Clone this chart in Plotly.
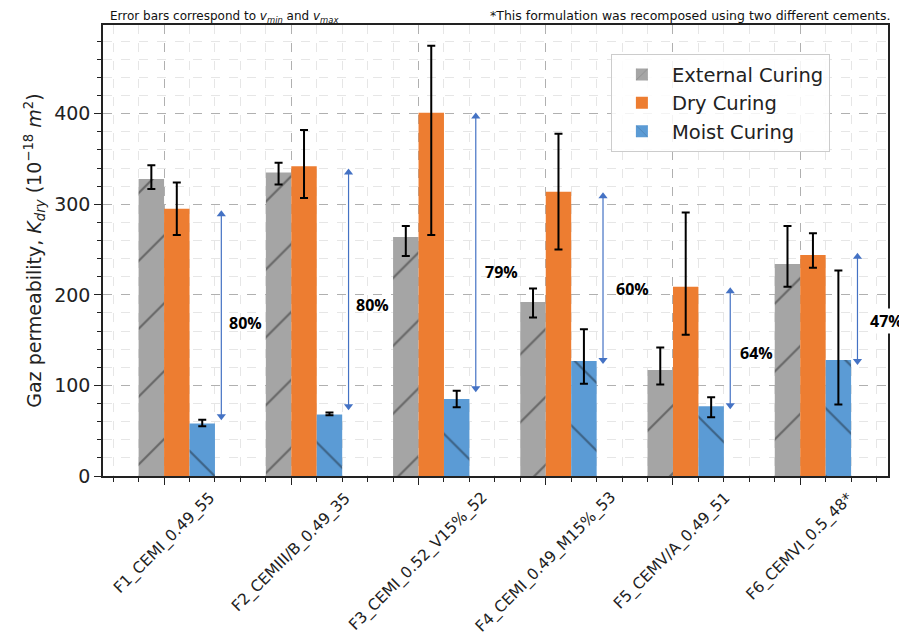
import plotly.graph_objects as go

categories = ["F1_CEMI_0.49_55", "F2_CEMIII/B_0.49_35", "F3_CEMI_0.52_V15%_52",
              "F4_CEMI_0.49_M15%_53", "F5_CEMV/A_0.49_51", "F6_CEMVI_0.5_48*"]

external = [328, 335, 264, 192, 117, 234]
external_hi = [343, 346, 276, 207, 142, 276]
external_lo = [317, 322, 243, 175, 101, 209]

dry = [295, 342, 401, 314, 209, 244]
dry_hi = [324, 382, 475, 378, 291, 268]
dry_lo = [266, 307, 266, 250, 156, 230]

moist = [58, 68, 85, 127, 77, 128]
moist_hi = [62, 70, 94, 162, 87, 227]
moist_lo = [55, 67, 76, 102, 65, 79]

reduction_labels = ["80%", "80%", "79%", "60%", "64%", "47%"]
arrow_top = [289, 335, 397, 309, 204, 242]
arrow_bottom = [66, 77, 97, 128, 78, 127]
label_y = [169, 189, 225, 207, 136, 171]
label_dx = [0.64, 0.635, 0.65, 0.68, 0.66, 0.68]

xs = list(range(len(categories)))

def err(vals, hi, lo):
    return dict(type="data", symmetric=False,
                array=[h - v for v, h in zip(vals, hi)],
                arrayminus=[v - l for v, l in zip(vals, lo)],
                color="black", thickness=2, width=4)

fig = go.Figure()
fig.add_trace(go.Bar(x=xs, y=external, width=0.2, offset=-0.2, name="External Curing",
                     marker=dict(color="#a5a5a5", line=dict(width=0),
                                 pattern=dict(shape="/", size=48, solidity=0.045, fgcolor="#2a2a2a")),
                     error_y=err(external, external_hi, external_lo)))
fig.add_trace(go.Bar(x=xs, y=dry, width=0.2, offset=0.0, name="Dry Curing",
                     marker=dict(color="#ed7d31", line=dict(width=0)),
                     error_y=err(dry, dry_hi, dry_lo)))
fig.add_trace(go.Bar(x=xs, y=moist, width=0.2, offset=0.2, name="Moist Curing",
                     marker=dict(color="#5b9bd5", line=dict(width=0),
                                 pattern=dict(shape="\\", size=48, solidity=0.045, fgcolor="#1f2a36")),
                     error_y=err(moist, moist_hi, moist_lo)))

# double-headed reduction arrows
for i in xs:
    fig.add_trace(go.Scatter(x=[i + 0.45, i + 0.45], y=[arrow_bottom[i], arrow_top[i]],
                             mode="lines+markers", showlegend=False, hoverinfo="skip",
                             line=dict(color="#4472c4", width=1.2),
                             marker=dict(symbol=["triangle-down", "triangle-up"], size=8,
                                         color="#4472c4")))

annotations = []
for i in xs:
    annotations.append(dict(x=i + label_dx[i], y=label_y[i], xref="x", yref="y",
                            text="<b>" + reduction_labels[i] + "</b>", showarrow=False,
                            font=dict(family="Open Sans, DejaVu Sans", size=16, color="black"),
                            bgcolor="white" if i == 5 else None))

# rotated category labels centred under their ticks
for i in xs:
    annotations.append(dict(x=i, y=-0.022, xref="x", yref="paper", xanchor="center", yanchor="top",
                            text=categories[i], textangle=-45, showarrow=False,
                            font=dict(family="DejaVu Sans", size=15.5, color="#222")))

annotations.append(dict(x=0.006, y=0.996, xref="paper", yref="paper", xanchor="left", yanchor="bottom",
                        text="Error bars correspond to <i>v</i><sub><i>min</i></sub> and <i>v</i><sub><i>max</i></sub>",
                        showarrow=False, font=dict(family="DejaVu Sans", size=12, color="#111")))
annotations.append(dict(x=1.005, y=1.0, xref="paper", yref="paper", xanchor="right", yanchor="bottom",
                        text="*This formulation was recomposed using two different cements.",
                        showarrow=False, font=dict(family="DejaVu Sans", size=12.5, color="#111")))

fig.update_layout(
    width=899, height=632,
    margin=dict(l=95, r=19, t=17, b=164),
    paper_bgcolor="white", plot_bgcolor="white",
    barmode="overlay",
    font=dict(family="DejaVu Sans", color="#222"),
    annotations=annotations,
    legend=dict(x=0.647, y=0.935, xanchor="left", yanchor="top",
                font=dict(size=19.5, color="#222"), bgcolor="rgba(255,255,255,0.85)",
                bordercolor="#cccccc", borderwidth=1, traceorder="normal", itemwidth=50),
    showlegend=True,
)
fig.update_xaxes(range=[-0.48, 5.69], tickmode="array", tickvals=xs, showticklabels=False,
                 showline=True, linecolor="#222", linewidth=1.5, mirror=True,
                 ticks="outside", ticklen=7, tickcolor="#222",
                 showgrid=True, gridcolor="#b0b0b0", griddash="dash", gridwidth=1,
                 minor=dict(tick0=0, dtick=0.2, ticks="outside", ticklen=4, tickcolor="#222",
                            showgrid=True, gridcolor="#e6e6e6", gridwidth=1),
                 zeroline=False)
fig.update_yaxes(range=[0, 498], tickmode="linear", tick0=0, dtick=100,
                 tickfont=dict(size=19, color="#222"),
                 title=dict(text="Gaz permeability, <i>K</i><sub><i>dry</i></sub> (10<sup>−18</sup> <i>m</i><sup>2</sup>)",
                            font=dict(size=19, color="#222"), standoff=8),
                 showline=True, linecolor="#222", linewidth=1.5, mirror=True,
                 ticks="outside", ticklen=7, tickcolor="#222",
                 showgrid=True, gridcolor="#b0b0b0", griddash="dash", gridwidth=1,
                 minor=dict(tick0=0, dtick=20, ticks="outside", ticklen=4, tickcolor="#222",
                            showgrid=True, gridcolor="#e6e6e6", gridwidth=1),
                 zeroline=False)

fig.write_html("out.html")
